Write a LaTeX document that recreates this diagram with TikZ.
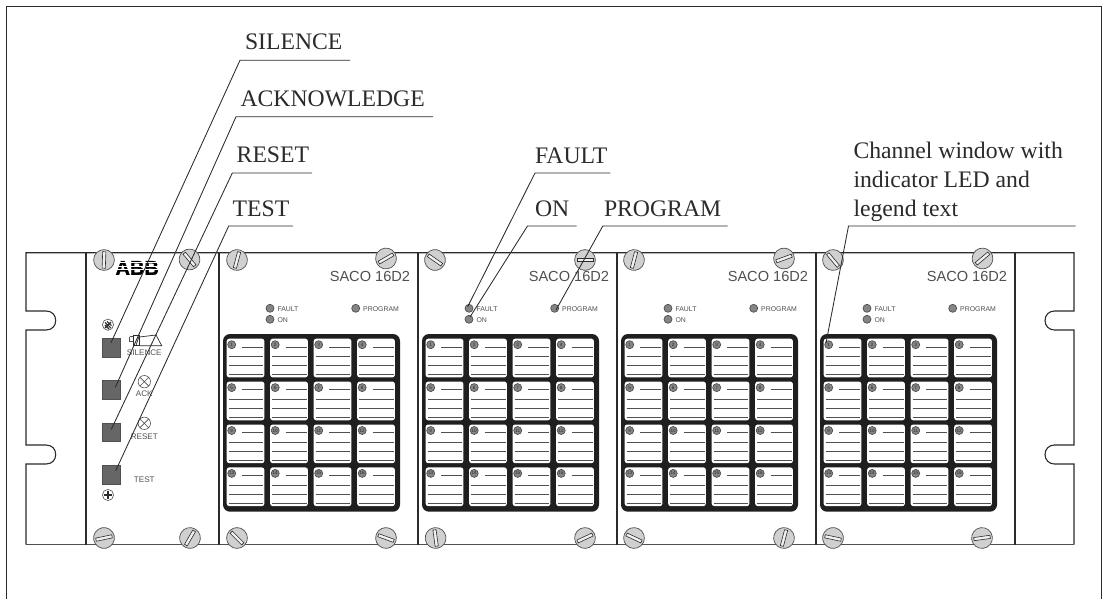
\documentclass[tikz,border=0pt]{standalone}
\usepackage{fontspec}
\setmainfont{Liberation Sans}
\newfontfamily\callfont{Liberation Serif}
\newfontfamily\logofont[FakeBold=1.6]{Liberation Sans Bold}
\definecolor{ink}{HTML}{2B2B2B}
\definecolor{panelgray}{HTML}{505050}
\definecolor{screwfill}{HTML}{D0D0D0}
\definecolor{ledfill}{HTML}{858585}
\definecolor{btnfill}{HTML}{666666}
\newcommand{\fsz}[1]{\fontsize{#1}{#1}\selectfont}
\newcommand{\myscrew}[3]{%
  \begin{scope}[shift={(#1,#2)},rotate=#3]
    \fill[screwfill,draw=panelgray,line width=0.7pt] (0,0) circle[radius=10.4];
    \draw[fill=white!70!screwfill,draw=ink,line width=0.6pt] (-8.2,-1.6) rectangle (8.2,1.6);
  \end{scope}}
\tikzset{
  x=1pt,y=-1pt,
  callout/.style={anchor=base west,inner sep=0pt,outer sep=0pt,text=ink,font=\callfont\fsz{23.7}},
  leader/.style={draw=ink,line width=0.85pt},
  rackline/.style={draw=ink,line width=1.1pt},
  sacolabel/.style={anchor=base east,inner sep=0pt,text=panelgray,font=\fsz{14.6}},
  tinylabel/.style={anchor=base west,inner sep=0pt,text=panelgray,font=\fsz{6.9}},
  ctrllabel/.style={anchor=center,inner sep=0pt,text=panelgray,font=\fsz{8.1}},
  led/.style={fill=ledfill,draw=panelgray,line width=0.7pt},
  btn/.style={draw=panelgray,fill=btnfill,line width=0.7pt,minimum size=18.5pt,inner sep=0pt,rectangle},
  winbox/.style={fill=white,rounded corners=2.5pt,draw=none},
  winline/.style={draw=panelgray,line width=0.95pt},
  lamp/.style={draw=panelgray,fill=white,line width=0.6pt},
  lednum/.style={inner sep=0pt,text=ink,font=\fsz{4.6}},
}
\begin{document}
\begin{tikzpicture}
\useasboundingbox (0,0) rectangle (1103,599);
\fill[white] (0,0) rectangle (1103,599);
% outer frame
\draw[draw=ink,line width=1pt] (6.5,610) -- (6.5,6.5) -- (1101.7,6.5) -- (1101.7,610);
% rack outline
\draw[rackline] (86,252.7) -- (26,252.7) -- (26,311) -- (46,311)
  .. controls (52,311) and (55.7,315) .. (55.7,320.5)
  .. controls (55.7,326) and (52,330) .. (46,330) -- (26,330) -- (26,445) -- (46,445)
  .. controls (52,445) and (55.7,449) .. (55.7,454.5)
  .. controls (55.7,460) and (52,464) .. (46,464) -- (26,464) -- (26,544.7);
\draw[rackline] (86,252.7) -- (1074,252.7) -- (1074,311) -- (1054.5,311)
  .. controls (1049,311) and (1045,315) .. (1045,320.5)
  .. controls (1045,326) and (1049,330) .. (1054.5,330) -- (1074,330) -- (1074,445) -- (1054.5,445)
  .. controls (1049,445) and (1045,449) .. (1045,454.5)
  .. controls (1045,460) and (1049,464) .. (1054.5,464) -- (1074,464) -- (1074,544.7);
\draw[draw=panelgray,line width=1.5pt] (26,544.7) -- (1074,544.7);
\foreach \vx in {86,219,418,617,816,1015}
  \draw[rackline] (\vx,252.7) -- (\vx,544.7);
% SACO panels
\foreach \px in {0,199,398,597}{
  \begin{scope}[shift={(\px,0)}]
    \node[sacolabel] at (410.3,281.7) {SACO 16D2};
    \draw[led] (270,308.3) circle[radius=4];
    \draw[led] (270,319.3) circle[radius=4];
    \draw[led] (355.7,308.3) circle[radius=4];
    \node[tinylabel] at (277.3,311) {FAULT};
    \node[tinylabel] at (277.3,322) {ON};
    \node[tinylabel] at (363,311) {PROGRAM};
    \fill[black!88,rounded corners=7pt] (223,334) rectangle (400,511.7);
    \foreach \r in {0,1,2,3}{
      \foreach \c in {0,1,2,3}{
        \pgfmathsetmacro{\wx}{226.7+43.5*\c}
        \pgfmathsetmacro{\wy}{338.7+42.9*\r}
        \pgfmathtruncatemacro{\wn}{4*\r+\c+1}
        \begin{scope}[shift={(\wx,\wy)}]
          \fill[winbox] (0,0) rectangle (37.7,38.7);
          \draw[led] (5,6) circle[radius=4];
          \node[lednum] at (5,6) {\wn};
          \draw[winline] (15.5,8.3) -- (36.5,8.3);
          \draw[winline] (2,18) -- (36.5,18);
          \draw[winline] (2,26.7) -- (36.5,26.7);
          \draw[winline] (2,35.7) -- (36.5,35.7);
        \end{scope}
      }
    }
  \end{scope}
}
% control panel
\node[btn] (btnsilence) at (111.5,347.7) {};
\node[btn] (btnack) at (111.5,389.9) {};
\node[btn] (btnreset) at (111.5,432.4) {};
\node[btn] (btntest) at (111.5,474.9) {};
\node[ctrllabel] (txtsilence) at (144.3,352.7) {SILENCE};
\node[ctrllabel] (txtack) at (144.3,394) {ACK};
\node[ctrllabel] (txtreset) at (144.3,436.7) {RESET};
\node[ctrllabel] (txttest) at (144.3,479.7) {TEST};
% horn icon
\draw[draw=panelgray,line width=0.7pt] (129.5,336.5) -- (129.5,341.5) (129.5,336.5) -- (133.5,336.5) (129.5,341.5) -- (133.5,341.5);
\draw[draw=ink,line width=0.7pt] (133.5,335) rectangle (139.5,345.5);
\draw[draw=ink,line width=0.7pt] (139.5,337) -- (156,335) -- (161.7,345.7) -- (139.5,345.7) (136,345.5) -- (139.5,335);
% lamps
\draw[lamp] (144.3,381.7) circle[radius=6.2] (139.9,377.3) -- (148.7,386.1) (148.7,377.3) -- (139.9,386.1);
\draw[lamp] (144.3,423.3) circle[radius=6.2] (139.9,418.9) -- (148.7,427.7) (148.7,418.9) -- (139.9,427.7);
% small screws
\draw[lamp] (108,324.7) circle[radius=5.6];
\draw[draw=ink,line width=1.1pt] (105,322.5) -- (111,328) (105,325) -- (109,329) (107,321.5) -- (111.5,325.5) (105,328) -- (111,322);
\draw[lamp] (108,495) circle[radius=5.6];
\draw[draw=ink,line width=1.6pt] (104,495) -- (112,495) (108,491) -- (108,499);
% ABB logo
\node[inner sep=0pt,anchor=base,text=black,font=\logofont\fsz{20}] (abb) at (137.2,274.8) {ABB};
\foreach \sy in {262.5,266,269.5}
  \draw[white,line width=0.35pt] (116,\sy) -- (159,\sy);
% screws
\myscrew{104}{260}{88}\myscrew{189.5}{259.5}{-50}\myscrew{104}{538}{12}\myscrew{190}{538}{60}
\myscrew{237}{260}{75}\myscrew{386}{258.5}{30}\myscrew{237}{538}{-45}\myscrew{386}{538}{-20}
\myscrew{435}{260}{-35}\myscrew{585}{260}{0}\myscrew{435.6}{538}{-82}\myscrew{585}{538}{25}
\myscrew{634}{260}{75}\myscrew{784}{258.5}{20}\myscrew{634}{538}{-25}\myscrew{784}{538}{75}
\myscrew{833}{260}{-50}\myscrew{982.5}{258.5}{40}\myscrew{833}{538}{-12}\myscrew{982}{538}{8}
% callout labels
\node[callout] (lsilence) at (245,50) {SILENCE};
\node[callout] (lack) at (240.5,106.7) {ACKNOWLEDGE};
\node[callout] (lreset) at (236.7,162.7) {RESET};
\node[callout] (ltest) at (232.7,216) {TEST};
\node[callout] (lfault) at (535,163.3) {FAULT};
\node[callout] (lon) at (535,216) {ON};
\node[callout] (lprogram) at (604,216) {PROGRAM};
\node[callout] (lchan1) at (853.5,158.3) {Channel window with};
\node[callout] (lchan2) at (853.5,187.3) {indicator LED and};
\node[callout] (lchan3) at (853.5,216) {legend text};
% leader coordinates
\coordinate (s1) at (350,60.3); \coordinate (s2) at (240,60.3); \coordinate (s3) at (111,342.7);
\coordinate (a1) at (433,116.7); \coordinate (a2) at (236,116.7); \coordinate (a3) at (115.3,387.3);
\coordinate (r1) at (312,173); \coordinate (r2) at (232.3,173); \coordinate (r3) at (111.3,429.3);
\coordinate (t1) at (293,226); \coordinate (t2) at (228.7,226); \coordinate (t3) at (115.7,470.7);
\coordinate (f1) at (610.4,173); \coordinate (f2) at (535,173); \coordinate (f3) at (467.7,306.7);
\coordinate (o1) at (576.6,226); \coordinate (o2) at (527.5,226); \coordinate (o3) at (470,317);
\coordinate (p1) at (727.5,226); \coordinate (p2) at (602.8,226); \coordinate (p3) at (556,310);
\coordinate (c1) at (1075.5,226); \coordinate (c2) at (848.5,226); \coordinate (c3) at (826,343);
\foreach \k in {s,a,r,t,f,o,p,c}
  \draw[leader] (\k1) -- (\k2) -- (\k3);
\end{tikzpicture}
\end{document}
